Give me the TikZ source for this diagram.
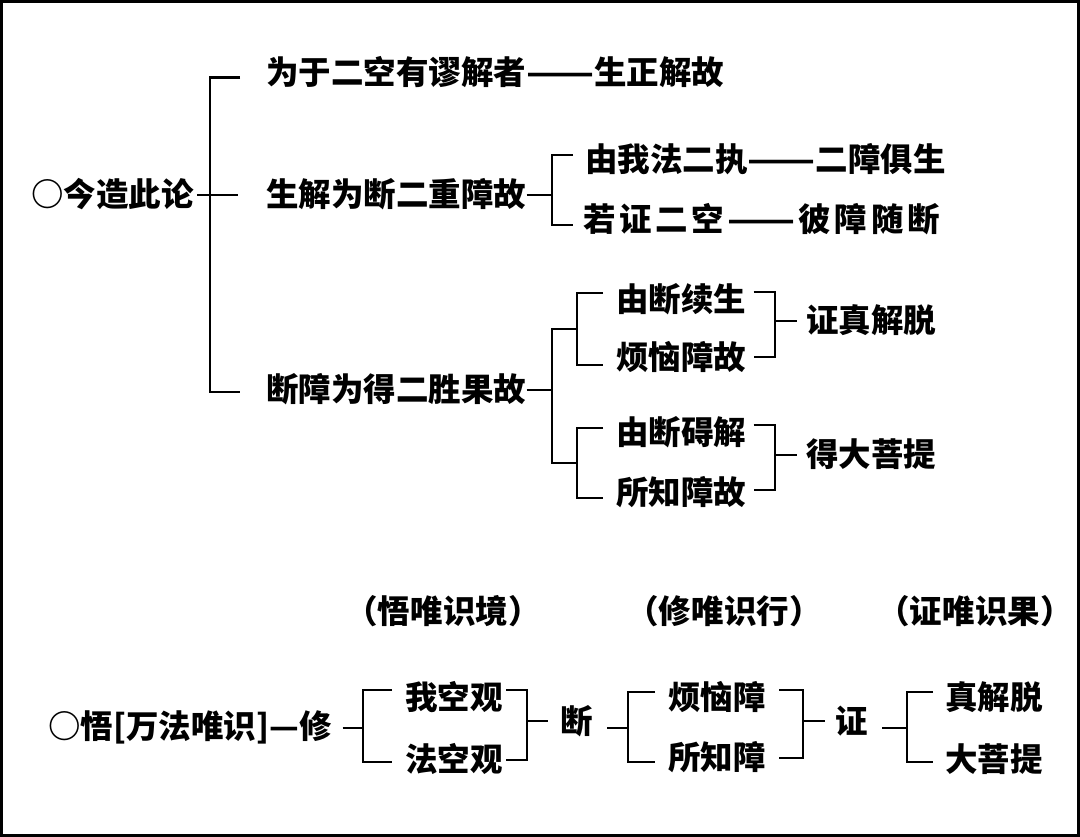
\documentclass[tikz,border=0pt]{standalone}
\usepackage{fontspec}
\newfontfamily\cjkfont{Noto Sans CJK SC}
\usetikzlibrary{calc}
\newcommand\longdash{\scalebox{1.22}[1]{——}}
\newcommand\gp{\hspace{2pt}}

\begin{document}
\begin{tikzpicture}[
  x=0.02cm, y=-0.02cm,
  term/.style={
    font=\cjkfont\bfseries\fontsize{18.5}{20}\selectfont,
    inner sep=0pt,
    anchor=west,
    text height=16pt,
    text depth=2.5pt
  },
  note/.style={term, anchor=center},
  brk/.style={line width=1.7pt, draw=black},
  frame/.style={line width=0.06cm, draw=black}
]
\useasboundingbox (0,0) rectangle (1080,837);
\draw[frame] (1.5,1.5) rectangle (1078.5,835.5);

% ===== Upper chart =====
\node[term] (root) at (31,195) {○今造此论};
\node[term] (a1) at (266,73) {为于二空有谬解者\longdash 生正解故};
\node[term] (a2) at (266,195) {生解为断二重障故};
\node[term] (a3) at (266,390) {断障为得二胜果故};

\coordinate (s0) at (210,195);
\draw[brk] ($(a1.west)+(-26,5)$) -| (s0) |- ($(a3.west)+(-26,2)$);
\draw[brk] ($(root.east)+(3,0)$) -- ($(a2.west)+(-28,0)$);

% second branch
\node[term] (b1) at (585,160) {由我法二执\longdash 二障俱生};
\node[term] (b2) at (583,220) {若\gp 证\gp 二\gp 空\gp\longdash\gp 彼\gp 障\gp 随\gp 断};

\coordinate (s1) at (552,195);
\draw[brk] (a2.east) -- (s1);
\draw[brk] ($(b1.west)+(-12,-5)$) -| (s1) |- ($(b2.west)+(-10,5)$);

% third branch
\node[term] (c1) at (616,300) {由断续生};
\node[term] (c2) at (616,358) {烦恼障故};
\node[term] (c3) at (616,433) {由断碍解};
\node[term] (c4) at (616,493) {所知障故};
\node[term] (d1) at (806,321) {证真解脱};
\node[term] (d2) at (806,455) {得大菩提};

\coordinate (s2) at (552,390);
\coordinate (s3) at (577,329);
\coordinate (s4) at (577,463);
\draw[brk] (a3.east) -- (s2);
\draw[brk] (s3) -| (s2) |- (s4);
\draw[brk] ($(c1.west)+(-13,-7)$) -| (s3) |- ($(c2.west)+(-13,7)$);
\draw[brk] ($(c3.west)+(-13,-5)$) -| (s4) |- ($(c4.west)+(-13,5)$);

\coordinate (t1) at (775,321);
\coordinate (t2) at (775,455);
\draw[brk] ($(c1.east)+(7,-8)$) -| (t1) |- ($(c2.east)+(7,-1)$);
\draw[brk] ($(c3.east)+(7,-8)$) -| (t2) |- ($(c4.east)+(7,-3)$);
\draw[brk] (t1) -- ($(d1.west)+(-9,0)$);
\draw[brk] (t2) -- ($(d2.west)+(-9,0)$);

% ===== Lower chart =====
\node[note] (l1) at (443,612) {（悟唯识境）};
\node[note] (l2) at (724,612) {（修唯识行）};
\node[note] (l3) at (975,612) {（证唯识果）};

\node[term] (e0) at (48,727) {○悟[万法唯识]—修};
\node[term] (f1) at (405,698) {我空观};
\node[term] (f2) at (405,760) {法空观};
\node[term] (g) at (560,722) {断};
\node[term] (h1) at (668,698) {烦恼障};
\node[term] (h2) at (668,758) {所知障};
\node[term] (k) at (835,722) {证};
\node[term] (m1) at (945,698) {真解脱};
\node[term] (m2) at (945,760) {大菩提};

\coordinate (u1) at (363,728);
\coordinate (u2) at (527,721);
\coordinate (u3) at (628,728);
\coordinate (u4) at (803,721);
\coordinate (u5) at (907,728);
\draw[brk, shorten <=6pt] (e0.east |- u1) -- (u1);
\draw[brk] ($(f1.west)+(-13,-8)$) -| (u1) |- ($(f2.west)+(-13,2)$);
\draw[brk] ($(f1.east)+(3,-8)$) -| (u2) |- ($(f2.east)+(3,0)$);
\draw[brk] (u2) -- ($(g.west |- u2)+(-12,0)$);
\draw[brk, shorten <=8pt] (g.east |- u3) -- (u3);
\draw[brk] ($(h1.west)+(-13,-6)$) -| (u3) |- ($(h2.west)+(-13,4)$);
\draw[brk] ($(h1.east)+(13,-8)$) -| (u4) |- ($(h2.east)+(13,0)$);
\draw[brk] (u4) -- ($(k.west |- u4)+(-10,0)$);
\draw[brk, shorten <=8pt] (k.east |- u5) -- (u5);
\draw[brk] ($(m1.west)+(-12,-6)$) -| (u5) |- ($(m2.west)+(-12,2)$);

\end{tikzpicture}
\end{document}
